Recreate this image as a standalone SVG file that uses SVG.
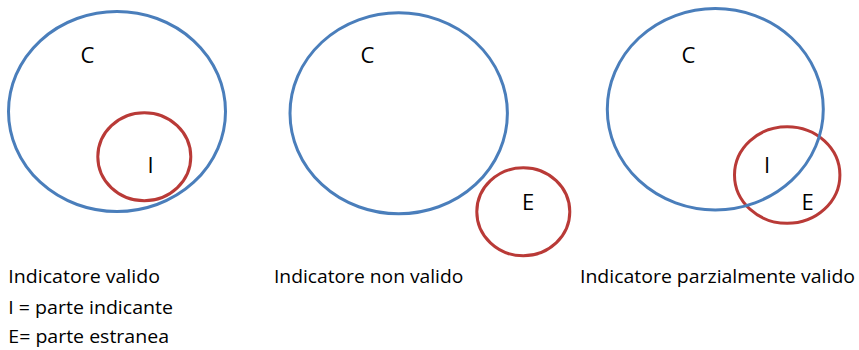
<svg xmlns="http://www.w3.org/2000/svg" width="859" height="350" viewBox="0 0 859 350">
<style>
.c{fill:none;stroke:#4a7ebb;stroke-width:3}
.r{fill:none;stroke:#b93a37;stroke-width:3}
text{font-family:"Open Sans","Liberation Sans",sans-serif;fill:#000}
.lb{font-size:22px}
.tx{font-size:19px}
</style>
<rect width="859" height="350" fill="#fff"/>
<g id="diagram-valido">
<ellipse class="r" cx="144.3" cy="156.7" rx="46.5" ry="44"/>
<ellipse class="c" cx="117" cy="111.5" rx="108.5" ry="100"/>
<text class="lb" x="80.5" y="62.7">C</text>
<text class="lb" x="147.5" y="172.7">I</text>
</g>
<g id="diagram-non-valido">
<ellipse class="c" cx="398.7" cy="113.3" rx="108.7" ry="100.5"/>
<ellipse class="r" cx="523.3" cy="211.8" rx="46.5" ry="44"/>
<text class="lb" x="360.5" y="62.7">C</text>
<text class="lb" x="522" y="210">E</text>
</g>
<g id="diagram-parziale">
<ellipse class="r" cx="787.2" cy="175" rx="52.7" ry="48.3"/>
<ellipse class="c" cx="715.3" cy="109.2" rx="108" ry="100.7"/>
<text class="lb" x="681.5" y="62.7">C</text>
<text class="lb" x="764" y="172.7">I</text>
<text class="lb" x="801.5" y="210">E</text>
</g>
<g id="connectors"/>
<g id="labels">
<text class="tx" x="8.3" y="282.7" textLength="151.7" lengthAdjust="spacingAndGlyphs">Indicatore valido</text>
<text class="tx" x="8.3" y="313.5" textLength="164.7" lengthAdjust="spacingAndGlyphs">I = parte indicante</text>
<text class="tx" x="8.3" y="342.5" textLength="160.7" lengthAdjust="spacingAndGlyphs">E= parte estranea</text>
<text class="tx" x="274" y="282.7" textLength="189.3" lengthAdjust="spacingAndGlyphs">Indicatore non valido</text>
<text class="tx" x="580" y="282.7" textLength="275" lengthAdjust="spacingAndGlyphs">Indicatore parzialmente valido</text>
</g>
</svg>
